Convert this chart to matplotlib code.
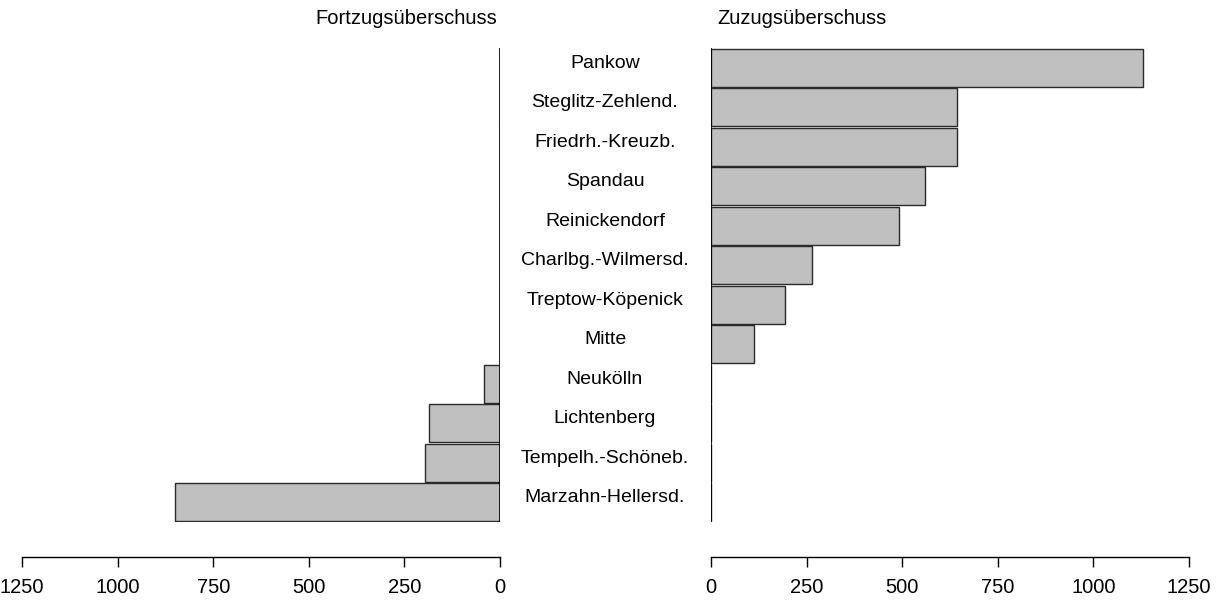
import matplotlib.pyplot as plt
import matplotlib.transforms as mtransforms
import numpy as np

plt.rcParams['font.family'] = ['Liberation Sans', 'DejaVu Sans']

# Berliner Bezirke, Wanderungssaldo
districts = ['Pankow', 'Steglitz-Zehlend.', 'Friedrh.-Kreuzb.', 'Spandau',
             'Reinickendorf', 'Charlbg.-Wilmersd.', 'Treptow-Köpenick', 'Mitte',
             'Neukölln', 'Lichtenberg', 'Tempelh.-Schöneb.', 'Marzahn-Hellersd.']
fortzug = [0, 0, 0, 0, 0, 0, 0, 0, 42, 186, 197, 849]
zuzug = [1130, 643, 643, 560, 492, 264, 194, 112, 0, 0, 0, 0]
ticks = [0, 250, 500, 750, 1000, 1250]

BAR_COLOR = '#c0c0c0'
EDGE = '#2a2a2a'
FS = 14

W, H = 1223, 601
fig = plt.figure(figsize=(W / 100, H / 100), dpi=100)

bottom = 1 - 522 / H
height = (522 - 48) / H
axL = fig.add_axes([22 / W, bottom, (500 - 22) / W, height])
axR = fig.add_axes([711 / W, bottom, (1189 - 711) / W, height])

y = np.arange(len(districts))

for ax, vals in ((axL, fortzug), (axR, zuzug)):
    ax.barh(y, vals, height=0.96, color=BAR_COLOR, edgecolor=EDGE, linewidth=1)
    ax.axvline(0, color='black', linewidth=1.2)
    ax.set_ylim(len(districts) - 0.5, -0.5)
    ax.set_xlim(0, 1250)
    ax.set_yticks([])
    for s in ('top', 'left', 'right'):
        ax.spines[s].set_visible(False)
    ax.spines['bottom'].set_position(('outward', 25))
    ax.spines['bottom'].set_linewidth(1)
    ax.set_xticks(ticks)
    ax.set_xticklabels([str(t) for t in ticks])
    ax.tick_params(axis='x', length=7, width=1, pad=8, labelsize=14.5)

axL.invert_xaxis()

trans = mtransforms.blended_transform_factory(fig.transFigure, axR.transData)
for yi, name in zip(y, districts):
    axR.text(605 / W, yi, name, transform=trans, ha='center', va='baseline',
             fontsize=FS, clip_on=False)

fig.text(497 / W, 1 - 18 / H, 'Fortzugsüberschuss', ha='right', va='center', fontsize=14.5)
fig.text(717 / W, 1 - 18 / H, 'Zuzugsüberschuss', ha='left', va='center', fontsize=14.5)

fig.savefig('out.png', dpi=100)
